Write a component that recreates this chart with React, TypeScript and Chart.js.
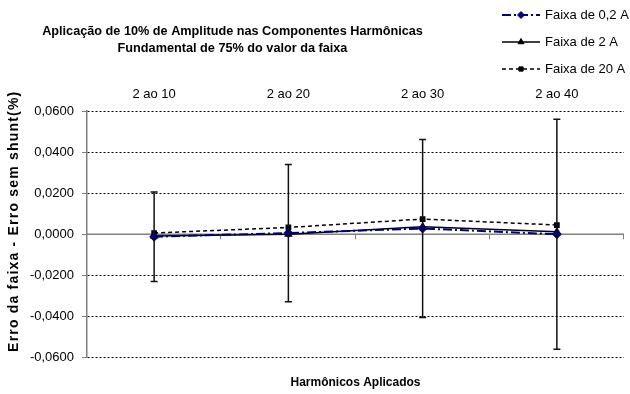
import React, { useEffect, useRef } from "react";
import { Chart, registerables } from "chart.js";
import { drawPoint } from "chart.js/helpers";

Chart.register(...registerables);

const categories = ["2 ao 10", "2 ao 20", "2 ao 30", "2 ao 40"];
const faixa02 = [-0.0012, 0.0006, 0.0028, 0.0];
const faixa2 = [-0.0008, 0.0, 0.0037, 0.0012];
const faixa20 = [0.0006, 0.0033, 0.0074, 0.0045];
const errorBars02 = [0.0218, 0.0334, 0.0433, 0.056];
const titleLines = [
  "Aplicação de 10% de Amplitude nas Componentes Harmônicas",
  "Fundamental de 75% do valor da faixa",
];
const yTitle = "Erro da faixa - Erro sem shunt(%)";
const xTitle = "Harmônicos Aplicados";

const FONT = "'Liberation Sans', Arial, sans-serif";

const overlay = {
  id: "overlay",
  beforeDatasetsDraw(chart: any) {
    const { ctx, chartArea, scales } = chart;
    const ys = scales.y;
    const xs = scales.x;
    const y0 = ys.getPixelForValue(0);
    ctx.save();
    ctx.strokeStyle = "#808080";
    ctx.lineWidth = 1.5;
    ctx.setLineDash([]);
    ctx.beginPath();
    ctx.moveTo(chartArea.left, y0);
    ctx.lineTo(chartArea.right, y0);
    ctx.stroke();
    const n = categories.length;
    const half = (chartArea.right - chartArea.left) / n / 2;
    ctx.lineWidth = 1;
    for (let i = 0; i < n; i++) {
      const x = Math.round(xs.getPixelForValue(i) + half) - 0.5;
      ctx.beginPath();
      ctx.moveTo(x, y0);
      ctx.lineTo(x, y0 + 5);
      ctx.stroke();
    }
    ctx.restore();
  },
  afterDatasetsDraw(chart: any) {
    const { ctx, scales } = chart;
    const ys = scales.y;
    const xs = scales.x;
    ctx.save();
    ctx.strokeStyle = "#111";
    ctx.lineWidth = 1.5;
    ctx.setLineDash([]);
    for (let i = 0; i < categories.length; i++) {
      const x = xs.getPixelForValue(i);
      const yt = ys.getPixelForValue(faixa02[i] + errorBars02[i]);
      const yb = ys.getPixelForValue(faixa02[i] - errorBars02[i]);
      ctx.beginPath();
      ctx.moveTo(x, yt);
      ctx.lineTo(x, yb);
      ctx.moveTo(x - 3.5, yt);
      ctx.lineTo(x + 3.5, yt);
      ctx.moveTo(x - 3.5, yb);
      ctx.lineTo(x + 3.5, yb);
      ctx.stroke();
    }
    ctx.restore();
  },
  afterDraw(chart: any) {
    const { ctx, chartArea } = chart;
    ctx.save();
    ctx.fillStyle = "#000";
    // title
    ctx.font = `bold 12.7px ${FONT}`;
    ctx.textAlign = "center";
    ctx.textBaseline = "middle";
    titleLines.forEach((t, i) => ctx.fillText(t, 232.5, 31 + i * 17));
    // x title
    ctx.font = `bold 12px ${FONT}`;
    ctx.fillText(xTitle, (chartArea.left + chartArea.right) / 2, 383);
    // y title
    ctx.save();
    ctx.translate(14, (chartArea.top + chartArea.bottom) / 2 - 13);
    ctx.rotate(-Math.PI / 2);
    ctx.font = `bold 14px ${FONT}`;
    try {
      (ctx as any).letterSpacing = "1.2px";
    } catch (e) {}
    ctx.fillText(yTitle, 0, 0);
    ctx.restore();
    // legend
    const rows = [15, 42, 69];
    chart.data.datasets.forEach((ds: any, i: number) => {
      const y = rows[i];
      ctx.save();
      ctx.strokeStyle = ds.borderColor;
      ctx.lineWidth = ds.borderWidth;
      ctx.setLineDash(ds.borderDash || []);
      ctx.beginPath();
      ctx.moveTo(502, y);
      ctx.lineTo(540, y);
      ctx.stroke();
      ctx.setLineDash([]);
      ctx.fillStyle = ds.pointBackgroundColor;
      ctx.strokeStyle = ds.pointBorderColor;
      ctx.lineWidth = 1;
      drawPoint(ctx, { pointStyle: ds.pointStyle, radius: ds.pointRadius, rotation: 0, borderWidth: 1 }, 521, y);
      ctx.restore();
      ctx.fillStyle = "#000";
      ctx.font = `13px ${FONT}`;
      ctx.textAlign = "left";
      ctx.textBaseline = "middle";
      ctx.fillText(ds.label, 545, y);
    });
    ctx.restore();
  },
};

export default function App() {
  const ref = useRef<HTMLCanvasElement>(null);
  useEffect(() => {
    if (!ref.current) return;
    const chart = new Chart(ref.current, {
      type: "line",
      data: {
        labels: categories,
        datasets: [
          {
            label: "Faixa de 0,2 A",
            data: faixa02,
            borderColor: "#000080",
            borderWidth: 2,
            borderDash: [9, 3, 2, 3],
            pointStyle: "rectRot",
            pointRadius: 3.5,
            pointBackgroundColor: "#000080",
            pointBorderColor: "#000080",
            tension: 0,
          },
          {
            label: "Faixa de 2 A",
            data: faixa2,
            borderColor: "#000000",
            borderWidth: 1.5,
            borderDash: [],
            pointStyle: "triangle",
            pointRadius: 3.5,
            pointBackgroundColor: "#000000",
            pointBorderColor: "#000000",
            tension: 0,
          },
          {
            label: "Faixa de 20 A",
            data: faixa20,
            borderColor: "#000000",
            borderWidth: 1.5,
            borderDash: [4, 3],
            pointStyle: "rect",
            pointRadius: 3,
            pointBackgroundColor: "#000000",
            pointBorderColor: "#000000",
            tension: 0,
          },
        ],
      },
      options: {
        responsive: false,
        animation: false,
        devicePixelRatio: 1,
        layout: { padding: { top: 81, bottom: 36.5, left: 0, right: 1.5 } },
        plugins: { legend: { display: false }, title: { display: false }, tooltip: { enabled: false } },
        scales: {
          x: {
            position: "top",
            offset: true,
            grid: { display: false, drawTicks: false },
            border: { display: false },
            ticks: { color: "#000", font: { family: FONT, size: 13 }, padding: 9, maxRotation: 0 },
            afterFit: (s: any) => {
              s.height = 30;
            },
          },
          y: {
            min: -0.06,
            max: 0.06,
            grid: {
              color: (c: any) => (Math.abs(c.tick?.value ?? 1) < 1e-9 ? "rgba(0,0,0,0)" : "#000"),
              lineWidth: 1,
              tickLength: 5,
              tickColor: "#808080",
              tickBorderDash: [],
            },
            border: { display: true, color: "#808080", width: 1.5, dash: [2, 2] },
            ticks: {
              stepSize: 0.02,
              color: "#000",
              padding: 8,
              font: { family: FONT, size: 13 },
              callback: (v: any) => {
                const n = Math.abs(v) < 1e-9 ? 0 : Number(v);
                return n.toFixed(4).replace(".", ",");
              },
            },
            afterFit: (s: any) => {
              s.width = 87;
            },
          },
        },
      },
      plugins: [overlay],
    });
    return () => chart.destroy();
  }, []);
  return (
    <div style={{ position: "fixed", left: 0, top: 0, width: 630, height: 394, background: "#fff" }}>
      <canvas ref={ref} width={630} height={394} />
    </div>
  );
}
